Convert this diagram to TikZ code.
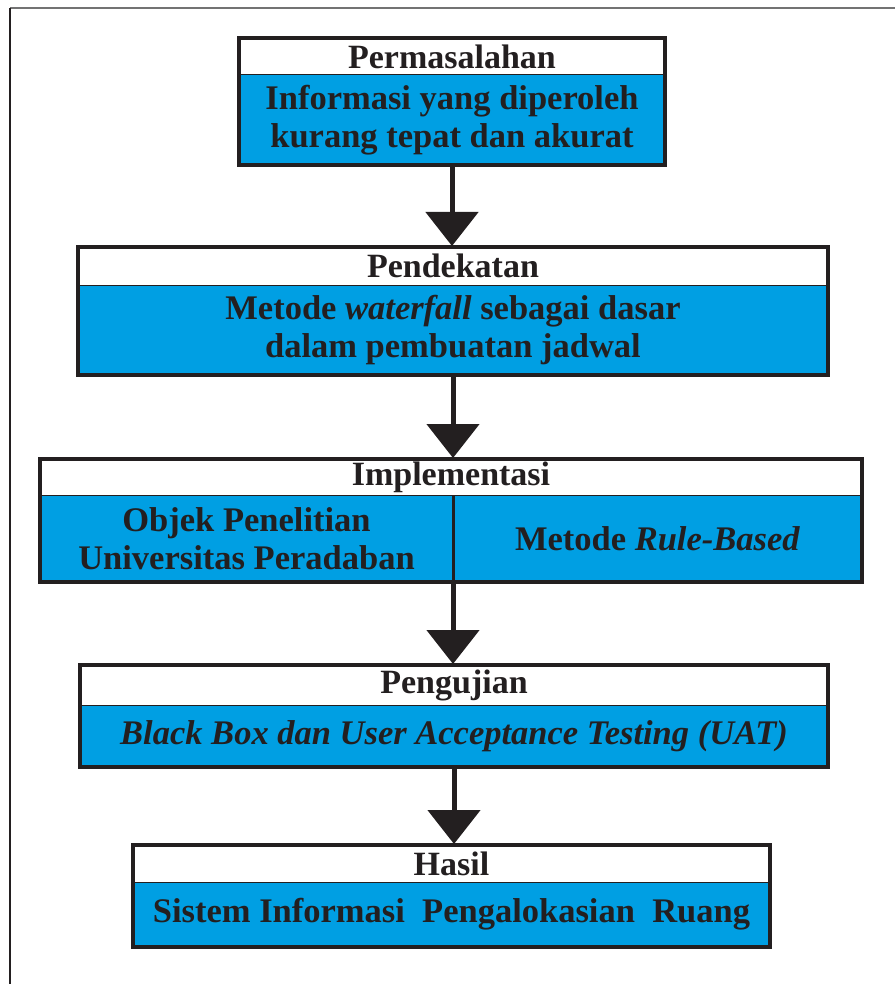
\documentclass[tikz,border=0pt]{standalone}
\usepackage{fontspec}
\setmainfont{Liberation Serif}
\usetikzlibrary{positioning,arrows.meta}
\definecolor{boxblue}{HTML}{009FE3}
\definecolor{inkdark}{HTML}{231F20}
\tikzset{
  judul/.style={draw=inkdark, line width=1pt, fill=white, inner sep=0pt, outer sep=0pt,
    font=\fontsize{34}{36}\selectfont\bfseries, text=inkdark},
  isi/.style={draw=inkdark, line width=1pt, fill=boxblue, inner sep=0pt, outer sep=0pt, align=center,
    font=\fontsize{34.5}{38}\selectfont\bfseries, text=inkdark},
  bingkai/.style={draw=inkdark, line width=4pt},
  panah/.style={draw=inkdark, line width=5pt, -{Triangle[width=52pt,length=34pt]}, shorten >=1pt}
}
\begin{document}
\begin{tikzpicture}[x=1pt,y=-1pt]
	\useasboundingbox (0,0) rectangle (895,984);
	\draw[line width=2.5pt, draw=gray!90!black] (10,8) -- (895,8);
	\draw[line width=2pt, draw=inkdark] (10,8) -- (10,984);
	% Permasalahan
	\node[judul, minimum width=426pt, minimum height=37pt] (masalah) at (452,56.5) {Permasalahan};
	\node[isi, minimum width=426pt, minimum height=90pt, below=0pt of masalah] (masalahisi) {Informasi yang diperoleh\\kurang tepat dan akurat};
	\draw[bingkai] (masalah.north west) rectangle (masalahisi.south east);
	% Pendekatan
	\node[judul, minimum width=750pt, minimum height=38pt] (dekat) at (453,266) {Pendekatan};
	\node[isi, minimum width=750pt, minimum height=90pt, below=0pt of dekat] (dekatisi) {Metode \textit{waterfall} sebagai dasar\\dalam pembuatan jadwal};
	\draw[bingkai] (dekat.north west) rectangle (dekatisi.south east);
	% Implementasi
	\node[judul, minimum width=822pt, minimum height=36pt] (impl) at (451,477) {Implementasi};
	\node[isi, minimum width=413pt, minimum height=87pt, below right=0pt and 0pt of impl.south west] (implkiri) {Objek Penelitian\\Universitas Peradaban};
	\node[isi, minimum width=409pt, minimum height=87pt, right=0pt of implkiri] (implkanan) {Metode \textit{Rule-Based}};
	\draw[bingkai] (impl.north west) rectangle (implkanan.south east);
	\draw[inkdark, line width=3pt] (implkiri.north east) -- (implkiri.south east);
	% Pengujian
	\node[judul, minimum width=748pt, minimum height=40pt] (uji) at (454,685) {Pengujian};
	\node[isi, minimum width=748pt, minimum height=62pt, below=0pt of uji] (ujiisi) {\textit{Black Box dan User Acceptance Testing (UAT)}};
	\draw[bingkai] (uji.north west) rectangle (ujiisi.south east);
	% Hasil
	\node[judul, minimum width=637pt, minimum height=37pt] (hasil) at (451.5,863.5) {Hasil};
	\node[isi, minimum width=637pt, minimum height=65pt, below=0pt of hasil] (hasilisi) {Sistem Informasi\ \ Pengalokasian\ \ Ruang};
	\draw[bingkai] (hasil.north west) rectangle (hasilisi.south east);
	% panah
	\draw[panah] (masalahisi.south) -- (masalahisi.south |- dekat.north);
	\draw[panah] (dekatisi.south) -- (dekatisi.south |- impl.north);
	\draw[panah] (implkiri.south east) -- (implkiri.south east |- uji.north);
	\draw[panah] (ujiisi.south) -- (ujiisi.south |- hasil.north);
\end{tikzpicture}
\end{document}
